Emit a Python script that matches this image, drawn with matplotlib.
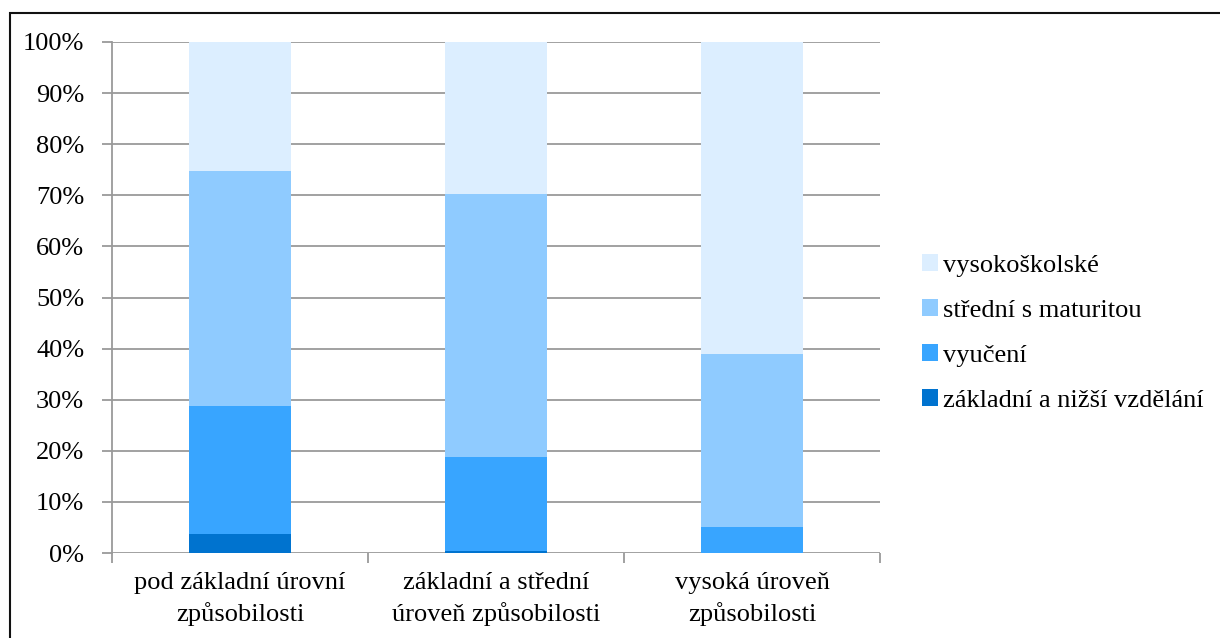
import matplotlib
matplotlib.use("Agg")
import matplotlib.pyplot as plt
from matplotlib.patches import Rectangle, Patch
import numpy as np

categories = ["pod základní úrovní\nzpůsobilosti",
              "základní a střední\núroveň způsobilosti",
              "vysoká úroveň\nzpůsobilosti"]
series_names = ["základní a nižší vzdělání", "vyučení",
                "střední s maturitou", "vysokoškolské"]
zakladni = [3.7, 0.3, 0.0]
vyuceni = [25.1, 18.5, 5.1]
stredni = [46.0, 51.5, 33.8]
vysokoskolske = [25.2, 29.7, 61.1]
colors = ["#0073CF", "#38A5FF", "#8FCBFF", "#DCEEFF"]
yticks = [0, 10, 20, 30, 40, 50, 60, 70, 80, 90, 100]

plt.rcParams['font.family'] = ['Liberation Serif', 'DejaVu Serif']
FS = 19

W, H = 1220, 638
fig = plt.figure(figsize=(W / 100, H / 100), dpi=100)
ax = fig.add_axes([112 / W, 1 - 553 / H, (880 - 112) / W, (553 - 42) / H])

x = np.arange(len(categories))
bottom = np.zeros(len(categories))
handles = []
for name, vals, c in zip(series_names, [zakladni, vyuceni, stredni, vysokoskolske], colors):
    ax.bar(x, vals, width=0.4, bottom=bottom, color=c, zorder=3)
    bottom += np.array(vals)
    handles.append(Patch(facecolor=c, label=name))

ax.set_xlim(-0.5, 2.5)
ax.set_ylim(0, 100)
ax.set_yticks(yticks)
ax.set_yticklabels([f"{v}%" for v in yticks], fontsize=FS)
ax.yaxis.grid(True, color="#9a9a9a", linewidth=1.3, zorder=0)
ax.set_axisbelow(True)
ax.set_xticks(x)
ax.set_xticklabels(categories, fontsize=FS, linespacing=1.38)
ax.tick_params(axis='x', which='major', length=0, pad=14)
ax.set_xticks([-0.5, 0.5, 1.5, 2.5], minor=True)
ax.tick_params(axis='x', which='minor', length=7, color="#9a9a9a", width=1.3)
ax.tick_params(axis='y', length=7, color="#9a9a9a", width=1.3, pad=13)
for s in ["top", "right", "bottom"]:
    ax.spines[s].set_visible(False)
ax.spines["left"].set_color("#9a9a9a")
ax.spines["left"].set_linewidth(1.3)

leg = fig.legend(handles=handles[::-1], loc="center left",
                 bbox_to_anchor=(898 / W, 1 - 333 / H), frameon=False,
                 fontsize=FS, handlelength=0.6, handleheight=0.6,
                 handletextpad=0.2, labelspacing=0.85)

fig.patches.append(Rectangle((10 / W, -0.1), 1.2, (1 - 13 / H) + 0.1,
                             transform=fig.transFigure, fill=False,
                             edgecolor="#111111", linewidth=1.5))

fig.savefig("out.png", dpi=100)
